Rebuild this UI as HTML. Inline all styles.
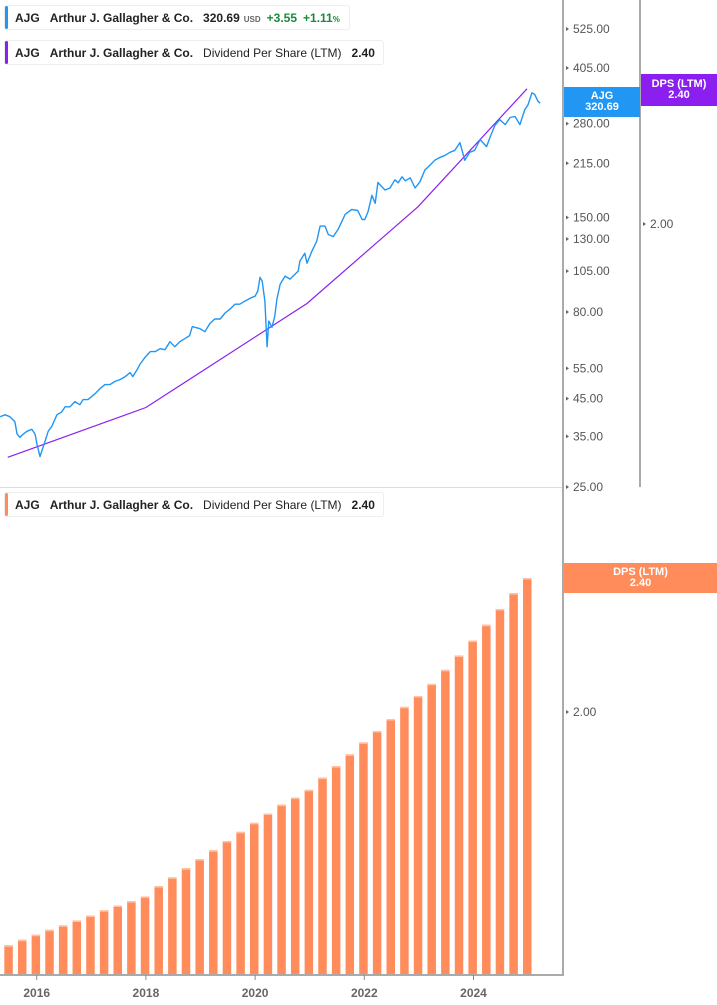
<!DOCTYPE html>
<html><head><meta charset="utf-8"><style>
body{margin:0;background:#fff;font-family:"Liberation Sans",sans-serif;}
#wrap{position:relative;width:717px;height:1005px;overflow:hidden;}
.hdr{position:absolute;left:4px;height:25px;background:#fff;border:1px solid #eee;border-radius:3px;font-size:12px;font-weight:bold;color:#222;line-height:25px;white-space:nowrap;padding-left:10px;padding-right:8px;box-sizing:border-box}
.hdr .bar{position:absolute;left:0;top:0;bottom:0;width:3px;border-radius:2px}
.hdr span{margin-right:10px}
.lab{position:absolute;color:#fff;font-size:11px;font-weight:bold;text-align:center;line-height:11px;}
</style></head><body>
<div id="wrap">
<svg id="svg" width="717" height="1005" style="position:absolute;left:0;top:0"></svg>
<div class="hdr" style="top:5px;width:346px"><div class="bar" style="background:#2196f3"></div><span>AJG</span><span>Arthur J. Gallagher &amp; Co.</span><span style="margin-right:4px">320.69</span><span style="font-size:8px;color:#666;margin-right:6px">USD</span><span style="color:#1a8a3a;margin-right:6px">+3.55</span><span style="color:#1a8a3a">+1.11<small style="font-size:8px">%</small></span></div>
<div class="hdr" style="top:40px;width:380px"><div class="bar" style="background:#8a1ff0"></div><span>AJG</span><span>Arthur J. Gallagher &amp; Co.</span><span style="font-weight:normal">Dividend Per Share (LTM)</span><span>2.40</span></div>
<div class="hdr" style="top:492px;width:380px"><div class="bar" style="background:#ff8c5a"></div><span>AJG</span><span>Arthur J. Gallagher &amp; Co.</span><span style="font-weight:normal">Dividend Per Share (LTM)</span><span>2.40</span></div>
<div class="lab" style="left:564px;top:87px;width:76px;height:30px;background:#2196f3;padding-top:4px;box-sizing:border-box">AJG<br>320.69</div>
<div class="lab" style="left:641px;top:74px;width:76px;height:32px;background:#8a1ff0;padding-top:5px;box-sizing:border-box">DPS (LTM)<br>2.40</div>
<div class="lab" style="left:564px;top:563px;width:153px;height:30px;background:#ff8c5a;padding-top:4px;box-sizing:border-box">DPS (LTM)<br>2.40</div>
</div>
<script>
const priceDates=[2015.33,2015.42,2015.51,2015.60,2015.64,2015.69,2015.75,2015.82,2015.91,2015.97,2016.01,2016.06,2016.10,2016.15,2016.21,2016.28,2016.37,2016.46,2016.52,2016.61,2016.70,2016.79,2016.85,2016.94,2017.07,2017.16,2017.25,2017.34,2017.43,2017.53,2017.62,2017.71,2017.76,2017.84,2017.89,2017.98,2018.08,2018.17,2018.26,2018.35,2018.44,2018.53,2018.62,2018.71,2018.80,2018.85,2018.99,2019.08,2019.17,2019.26,2019.36,2019.45,2019.54,2019.63,2019.72,2019.81,2019.91,2020.00,2020.05,2020.09,2020.13,2020.18,2020.22,2020.25,2020.31,2020.36,2020.40,2020.46,2020.55,2020.64,2020.73,2020.79,2020.82,2020.91,2020.95,2021.04,2021.13,2021.19,2021.28,2021.34,2021.43,2021.52,2021.65,2021.77,2021.88,2021.96,2022.01,2022.07,2022.14,2022.20,2022.25,2022.38,2022.47,2022.56,2022.62,2022.69,2022.75,2022.84,2022.93,2023.02,2023.11,2023.20,2023.29,2023.39,2023.48,2023.57,2023.66,2023.75,2023.84,2023.93,2024.02,2024.12,2024.24,2024.30,2024.39,2024.48,2024.58,2024.67,2024.76,2024.85,2024.94,2025.00,2025.07,2025.12,2025.18,2025.22,2025.25];
const priceValues=[39.9,40.4,39.9,38.6,35.6,34.8,35.5,36.2,36.7,35.5,33.0,30.6,32.0,33.8,36.2,37.5,40.4,41.2,42.6,42.6,44.1,43.2,44.7,44.7,46.5,48.1,49.4,49.4,50.4,51.1,52.1,53.5,52.1,54.6,56.5,59.1,61.5,61.5,62.7,62.3,65.7,63.5,65.7,67.0,68.4,72.6,71.6,70.2,74.1,76.4,76.4,79.5,81.6,84.3,84.3,86.0,87.7,88.9,92.0,100.8,98.2,86.0,63.5,75.3,72.3,77.9,87.2,96.3,101.6,99.6,102.9,105,112.2,118.3,110.7,119.9,128.3,141.6,141.6,133.9,132.1,138.6,153.2,158.2,157.2,148,148,156.1,173.8,164.8,189.3,180,182.5,192.7,188.9,196.6,191.4,195.3,182.5,190.2,205.7,212,219.3,223.7,226.7,231.3,234.4,246.7,219.3,231.3,234.4,251.7,240.3,255,276.3,287.6,278,291.5,293.5,278,307.3,317.6,343.4,340,324.9,320.7];
const dpsLineDates=[2015.47,2018.0,2020.95,2022.98,2024.98];
const dpsLineValues=[1.456,1.558,1.795,2.047,2.404];
const barDates=[];for(let i=0;i<39;i++)barDates.push(2015.48+0.25*i);
const barValues=[1.456,1.467,1.477,1.487,1.496,1.506,1.516,1.527,1.537,1.546,1.556,1.578,1.597,1.617,1.637,1.657,1.678,1.699,1.720,1.742,1.763,1.780,1.799,1.829,1.858,1.888,1.919,1.949,1.981,2.014,2.044,2.078,2.118,2.160,2.204,2.252,2.301,2.351,2.400];
const priceTicks=[525,405,280,215,150,130,105,80,55,45,35,25];
const yearTicks=[2016,2018,2020,2022,2024];

const NS='http://www.w3.org/2000/svg';
const svg=document.getElementById('svg');
function mk(t,a,p){const e=document.createElementNS(NS,t);for(const k in a)e.setAttribute(k,a[k]);(p||svg).appendChild(e);return e;}
const xS=d=>36.7+(d-2016)*54.6;
const yP=v=>29+(Math.log10(525)-Math.log10(v))*346.4;
const yD=v=>224-1692*Math.log10(v/2);
const yB=v=>712-1692*Math.log10(v/2);

// bars
barDates.forEach((d,i)=>{const x=xS(d),y=yB(barValues[i]);
 const r=mk('rect',{x:x-4,y:y,width:8.5,height:975-y,fill:'#ff8c5a'});
 
 
 const t=mk('rect',{x:x-4,y:y,width:8.5,height:1.5,fill:'#ffc2a4'});
 
 
});
// separators & axes
let e;
e=mk('line',{x1:0,y1:487.5,x2:563,y2:487.5,stroke:'#ddd','stroke-width':1});

e=mk('line',{x1:563,y1:0,x2:563,y2:976,stroke:'#aaa','stroke-width':2});

e=mk('line',{x1:640,y1:0,x2:640,y2:487,stroke:'#aaa','stroke-width':2});

e=mk('line',{x1:0,y1:975,x2:564,y2:975,stroke:'#aaa','stroke-width':2});

priceTicks.forEach(v=>{const y=yP(v);
 const p=mk('path',{d:`M566 ${y-2}L569 ${y}L566 ${y+2}Z`,fill:'#666'});
 
 const t=mk('text',{x:573,y:y+4,'font-size':12,fill:'#555','font-family':'Liberation Sans'});t.textContent=v.toFixed(2);
 
});
[2].forEach(v=>{let y=yD(v);
 let p=mk('path',{d:`M643 ${y-2}L646 ${y}L643 ${y+2}Z`,fill:'#666'});
 
 let t=mk('text',{x:650,y:y+4,'font-size':12,fill:'#555','font-family':'Liberation Sans'});t.textContent=v.toFixed(2);
 
 y=yB(v);
 p=mk('path',{d:`M566 ${y-2}L569 ${y}L566 ${y+2}Z`,fill:'#666'});
 
 t=mk('text',{x:573,y:y+4,'font-size':12,fill:'#555','font-family':'Liberation Sans'});t.textContent=v.toFixed(2);
 
});
yearTicks.forEach(yr=>{const x=xS(yr);
 const l=mk('line',{x1:x,y1:975,x2:x,y2:980,stroke:'#888'});
 
 const t=mk('text',{x:x,y:997,'font-size':12,'font-weight':'bold',fill:'#666','text-anchor':'middle','font-family':'Liberation Sans'});t.textContent=yr;
 
});
// dps line
e=mk('polyline',{points:dpsLineDates.map((d,i)=>xS(d)+','+yD(dpsLineValues[i])).join(' '),fill:'none',stroke:'#8a1ff0','stroke-width':1.2});

// price line
e=mk('polyline',{points:priceDates.map((d,i)=>xS(d).toFixed(1)+','+yP(priceValues[i]).toFixed(1)).join(' '),fill:'none',stroke:'#2196f3','stroke-width':1.4,'stroke-linejoin':'round'});

</script>
</body></html>
